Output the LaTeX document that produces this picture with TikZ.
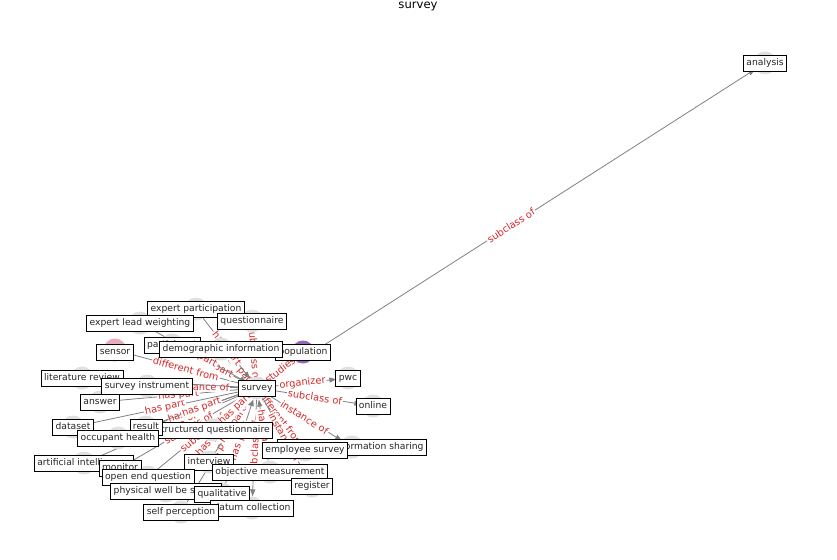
\documentclass[tikz,border=0pt]{standalone}
\usepackage{fontspec}
\setmainfont{DejaVu Sans}
\usetikzlibrary{arrows.meta,backgrounds}
\definecolor{edgegray}{RGB}{128,128,128}
\definecolor{labred}{RGB}{214,39,40}
\definecolor{nodegray}{RGB}{224,224,224}
\definecolor{popviolet}{RGB}{148,103,189}
\definecolor{sensorpink}{RGB}{236,170,186}

\begin{document}
\begin{tikzpicture}[x=1pt,y=-1pt,
  vertex/.style={circle,minimum size=23pt,inner sep=0pt,fill=nodegray},
  tag/.style={rectangle,draw=black,line width=0.8pt,fill=white,text=black!85,
    font=\fontsize{9.2}{10}\selectfont,inner xsep=3pt,inner ysep=3.5pt,
    text height=7pt,text depth=2pt},
  link/.style={draw=edgegray,line width=0.8pt,-{Triangle[length=7pt,width=5pt]}},
  rel/.style={midway,sloped,fill=white,inner sep=1pt,text=labred,
    font=\fontsize{9.8}{11}\selectfont}]
\useasboundingbox (0,0) rectangle (837,559);
\path (418,6) node[font=\fontsize{11.6}{13}\selectfont] (title) {survey};

% graph nodes
\path (257,388) node[vertex] (survey) {};
\path (765,63) node[vertex] (analysis) {};
\path (303,352) node[vertex,fill=popviolet] (population) {};
\path (348,378) node[vertex] (pwc) {};
\path (373,406) node[vertex] (online) {};
\path (352,447) node[vertex] (infoshare) {};
\path (305,450) node[vertex] (empsurvey) {};
\path (312,486) node[vertex] (register) {};
\path (270,472) node[vertex] (objmeas) {};
\path (252,508) node[vertex] (datacoll) {};
\path (222,494) node[vertex] (qualitative) {};
\path (181,512) node[vertex] (selfperc) {};
\path (209,462) node[vertex] (interview) {};
\path (166,491) node[vertex] (wellbeing) {};
\path (148,477) node[vertex] (openend) {};
\path (120,468) node[vertex] (monitor) {};
\path (84,463) node[vertex] (ai) {};
\path (118,438) node[vertex] (occhealth) {};
\path (213,430) node[vertex] (structq) {};
\path (146,427) node[vertex] (result) {};
\path (73,427) node[vertex] (dataset) {};
\path (100,402) node[vertex] (answer) {};
\path (147,386) node[vertex] (surveyinst) {};
\path (82,378) node[vertex] (litreview) {};
\path (115,350) node[vertex,fill=sensorpink] (sensor) {};
\path (172,345) node[vertex] (participant) {};
\path (221,349) node[vertex] (demoinfo) {};
\path (140,323) node[vertex] (explead) {};
\path (196,309) node[vertex] (expart) {};
\path (252,321) node[vertex] (questionnaire) {};

% relations
\begin{scope}[on background layer]
\draw[link] (survey) -- node[rel]{subclass of} (analysis);
\draw[link] (survey) -- node[rel]{studies} (population);
\draw[link] (survey) -- node[rel]{organizer} (pwc);
\draw[link] (survey) -- node[rel]{subclass of} (online);
\draw[link] (survey) -- node[rel]{instance of} (infoshare);
\draw[link] (survey) -- node[rel]{different from} (empsurvey);
\draw[link] (survey) -- node[rel]{instance of} (register);
\draw[link] (survey) -- node[rel]{subclass of} (datacoll);
\draw[link] (survey) -- node[rel]{subclass of} (questionnaire);
\draw[link] (objmeas) -- node[rel]{has part} (survey);
\draw[link] (qualitative) -- node[rel]{has part} (survey);
\draw[link] (selfperc) -- node[rel]{has part} (survey);
\draw[link] (interview) -- node[rel]{has part} (survey);
\draw[link] (wellbeing) -- node[rel]{has part} (survey);
\draw[link] (openend) -- node[rel]{subclass of} (survey);
\draw[link] (monitor) -- node[rel]{subclass of} (survey);
\draw[link] (ai) -- node[rel]{subclass of} (survey);
\draw[link] (occhealth) -- node[rel]{has part} (survey);
\draw[link] (structq) -- node[rel]{has part} (survey);
\draw[link] (result) -- node[rel]{has part} (survey);
\draw[link] (dataset) -- node[rel]{has part} (survey);
\draw[link] (answer) -- node[rel]{has part} (survey);
\draw[link] (surveyinst) -- node[rel]{instance of} (survey);
\draw[link] (litreview) -- node[rel]{uses} (survey);
\draw[link] (sensor) -- node[rel]{different from} (survey);
\draw[link] (participant) -- node[rel]{has part} (survey);
\draw[link] (demoinfo) -- node[rel]{has part} (survey);
\draw[link] (explead) -- node[rel]{has part} (survey);
\draw[link] (expart) -- node[rel]{has part} (survey);
\end{scope}

% node labels
\path (participant) node[tag] (participant-t) {participant};
\path (expart) node[tag] (expart-t) {expert participation};
\path (explead) node[tag] (explead-t) {expert lead weighting};
\path (questionnaire) node[tag] (questionnaire-t) {questionnaire};
\path (population) node[tag] (population-t) {population};
\path (demoinfo) node[tag] (demoinfo-t) {demographic information};
\path (115,352) node[tag] (sensor-t) {sensor};
\path (litreview) node[tag] (litreview-t) {literature review};
\path (surveyinst) node[tag] (surveyinst-t) {survey instrument};
\path (answer) node[tag] (answer-t) {answer};
\path (dataset) node[tag] (dataset-t) {dataset};
\path (structq) node[tag] (structq-t) {structured questionnaire};
\path (result) node[tag] (result-t) {result};
\path (occhealth) node[tag] (occhealth-t) {occupant health};
\path (ai) node[tag] (ai-t) {artificial intelligence};
\path (monitor) node[tag] (monitor-t) {monitor};
\path (interview) node[tag] (interview-t) {interview};
\path (openend) node[tag] (openend-t) {open end question};
\path (wellbeing) node[tag] (wellbeing-t) {physical well be status};
\path (qualitative) node[tag] (qualitative-t) {qualitative};
\path (datacoll) node[tag] (datacoll-t) {datum collection};
\path (selfperc) node[tag] (selfperc-t) {self perception};
\path (objmeas) node[tag] (objmeas-t) {objective measurement};
\path (register) node[tag] (register-t) {register};
\path (infoshare) node[tag] (infoshare-t) {knowledge information sharing};
\path (empsurvey) node[tag] (empsurvey-t) {employee survey};
\path (survey) node[tag] (survey-t) {survey};
\path (pwc) node[tag] (pwc-t) {pwc};
\path (online) node[tag] (online-t) {online};
\path (analysis) node[tag] (analysis-t) {analysis};
\end{tikzpicture}
\end{document}
